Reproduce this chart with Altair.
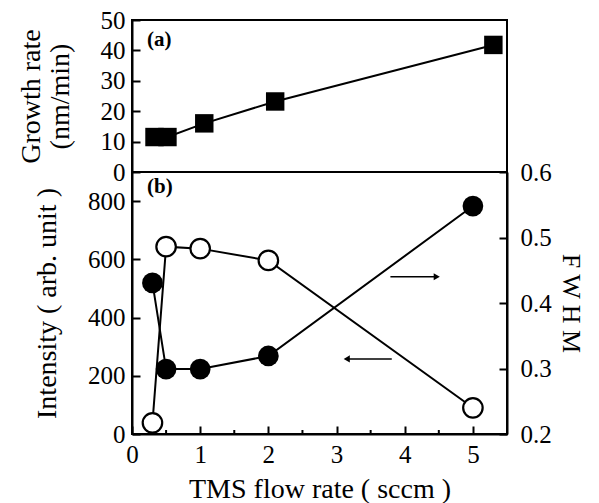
import altair as alt
import pandas as pd

# ---------------- data ----------------
# Panel (a): growth rate vs TMS flow rate
tms_a = [0.33, 0.52, 1.06, 2.1, 5.3]
growth_rate = [11.5, 11.5, 16.0, 23.2, 41.8]

# Panel (b): intensity (filled circles) and FWHM (open circles)
tms_b = [0.3, 0.5, 1.0, 2.0, 5.0]
intensity = [519, 223, 223, 268, 783]
fwhm = [0.217, 0.486, 0.483, 0.465, 0.240]

# arrows (tail, tip) in data units
arrow_fwhm_x = [3.79, 4.47]
arrow_fwhm_y = [0.44]
arrow_int_x = [3.81, 3.15]
arrow_int_y = [258]

# panel labels (data units)
label_a = ["(a)", 0.22, 43.5]
label_b = ["(b)", 0.22, 848]

# ticks / domains
x_ticks = [0, 1, 2, 3, 4, 5]
x_minor_ticks = [0.5, 1.5, 2.5, 3.5, 4.5]
growth_ticks = [0, 10, 20, 30, 40, 50]
intensity_ticks = [0, 200, 400, 600, 800]
fwhm_ticks = [0.2, 0.3, 0.4, 0.5, 0.6]
X_DOMAIN = [0, 5.5]
GROWTH_DOMAIN = [0, 50]
INT_DOMAIN = [0, 900]
FWHM_DOMAIN = [0.2, 0.6]
panel_split = [0]  # growth-rate value at the boundary between the panels

FONT = "Liberation Serif"
W = 375
H_TOP = 152
H_BOT = 262
H = H_TOP + H_BOT
TICK = 8
MINOR = 4

df_a = pd.DataFrame({"tms": tms_a, "growth": growth_rate})
df_b = pd.DataFrame({"tms": tms_b, "intensity": intensity, "fwhm": fwhm})
df_minor = pd.DataFrame({"tms": x_minor_ticks})
df_split = pd.DataFrame({"growth": panel_split})
df_lab_a = pd.DataFrame({"t": [label_a[0]], "tms": [label_a[1]], "growth": [label_a[2]]})
df_lab_b = pd.DataFrame({"t": [label_b[0]], "tms": [label_b[1]], "intensity": [label_b[2]]})
df_arr_f = pd.DataFrame({"tms": [arrow_fwhm_x[0]], "tms2": [arrow_fwhm_x[1]], "fwhm": arrow_fwhm_y})
df_head_f = pd.DataFrame({"tms": [arrow_fwhm_x[1]], "fwhm": arrow_fwhm_y})
df_arr_i = pd.DataFrame({"tms": [arrow_int_x[0]], "tms2": [arrow_int_x[1]], "intensity": arrow_int_y})
df_head_i = pd.DataFrame({"tms": [arrow_int_x[1]], "intensity": arrow_int_y})

# axis styling: negative tick size (as an expression) -> ticks point into the frame
AX = dict(labelFont=FONT, titleFont=FONT, labelFontSize=25, titleFontSize=28,
          titleFontWeight="normal", labelColor="black", titleColor="black",
          tickColor="black", tickWidth=2, tickSize={"expr": str(-TICK)},
          domainColor="black", domainWidth=2, gridOpacity=0)

xscale = alt.Scale(domain=X_DOMAIN, nice=False, zero=False)
x_enc = alt.X(
    "tms:Q", scale=xscale,
    axis=alt.Axis(values=x_ticks, format="d", title="TMS flow rate ( sccm )",
                  labelPadding=16, labelFlush=False, titlePadding=8, **AX),
)

# y scales: top panel occupies pixels [0, H_TOP], bottom panel [H_TOP, H]
g_scale = alt.Scale(domain=GROWTH_DOMAIN, range=[H_TOP, 0], nice=False, zero=False)
i_scale = alt.Scale(domain=INT_DOMAIN, range=[H, H_TOP], nice=False, zero=False)
f_scale = alt.Scale(domain=FWHM_DOMAIN, range=[H, H_TOP], nice=False, zero=False)

y_g_axis = alt.Y("growth:Q", scale=g_scale, axis=alt.Axis(
    orient="left", values=growth_ticks, title=["Growth rate", "(nm/min)"],
    titleLineHeight=29, titlePadding=26, labelPadding=15, **AX))
y_g = alt.Y("growth:Q", scale=g_scale, axis=None)

y_i_axis = alt.Y("intensity:Q", scale=i_scale, axis=alt.Axis(
    orient="left", values=intensity_ticks, title="Intensity ( arb. unit )",
    titlePadding=26, labelPadding=15, **AX))
y_i = alt.Y("intensity:Q", scale=i_scale, axis=None)

AX_R = dict(AX)
AX_R["titleFontSize"] = 26
y_f_axis = alt.Y("fwhm:Q", scale=f_scale, axis=alt.Axis(
    orient="right", values=fwhm_ticks, format=".1f", title="F W H M",
    titlePadding=6, labelPadding=21, **AX_R))
y_f = alt.Y("fwhm:Q", scale=f_scale, axis=None)

# minor x ticks (inside the frame, along the bottom edge)
minor = alt.Chart(df_minor).mark_tick(color="black", orient="vertical", size=MINOR,
                                      thickness=2, opacity=1).encode(
    x=x_enc, y=alt.value(H - MINOR / 2))

# ---- panel (a)
line_a = alt.Chart(df_a).mark_line(color="black", strokeWidth=2).encode(x=x_enc, y=y_g_axis)
pts_a = alt.Chart(df_a).mark_point(shape="square", filled=True, color="black",
                                   size=340, opacity=1).encode(x=x_enc, y=y_g)
txt_a = alt.Chart(df_lab_a).mark_text(font=FONT, fontSize=21, fontWeight="bold",
                                      align="left", baseline="middle", color="black").encode(
    x=x_enc, y=y_g, text="t:N")
split = alt.Chart(df_split).mark_rule(color="black", strokeWidth=2).encode(
    y=y_g, x=alt.value(0), x2=alt.value(W))

# ---- panel (b)
line_i = alt.Chart(df_b).mark_line(color="black", strokeWidth=2).encode(x=x_enc, y=y_i_axis)
pts_i = alt.Chart(df_b).mark_point(shape="circle", filled=True, color="black",
                                   size=430, opacity=1).encode(x=x_enc, y=y_i)
arr_i = alt.Chart(df_arr_i).mark_rule(color="black", strokeWidth=1.5).encode(
    x=x_enc, x2="tms2:Q", y=y_i)
head_i = alt.Chart(df_head_i).mark_point(shape="triangle-left", filled=True,
                                         color="black", size=50, opacity=1).encode(x=x_enc, y=y_i)
txt_b = alt.Chart(df_lab_b).mark_text(font=FONT, fontSize=21, fontWeight="bold",
                                      align="left", baseline="middle", color="black").encode(
    x=x_enc, y=y_i, text="t:N")

line_f = alt.Chart(df_b).mark_line(color="black", strokeWidth=2).encode(x=x_enc, y=y_f_axis)
pts_f = alt.Chart(df_b).mark_point(shape="circle", filled=True, fill="white", stroke="black",
                                   strokeWidth=2.2, size=380, opacity=1).encode(x=x_enc, y=y_f)
arr_f = alt.Chart(df_arr_f).mark_rule(color="black", strokeWidth=1.5).encode(
    x=x_enc, x2="tms2:Q", y=y_f)
head_f = alt.Chart(df_head_f).mark_point(shape="triangle-right", filled=True,
                                         color="black", size=50, opacity=1).encode(x=x_enc, y=y_f)

chart = (
    alt.layer(minor, line_a, pts_a, txt_a, split,
              line_i, pts_i, arr_i, head_i, txt_b,
              line_f, pts_f, arr_f, head_f)
    .resolve_scale(y="independent")
    .properties(width=W, height=H,
                padding={"left": 9, "top": 0, "right": 0, "bottom": 0})
    .configure_view(stroke="black", strokeWidth=2)
)

chart.save("out.html", embed_options={"renderer": "svg", "actions": False})
